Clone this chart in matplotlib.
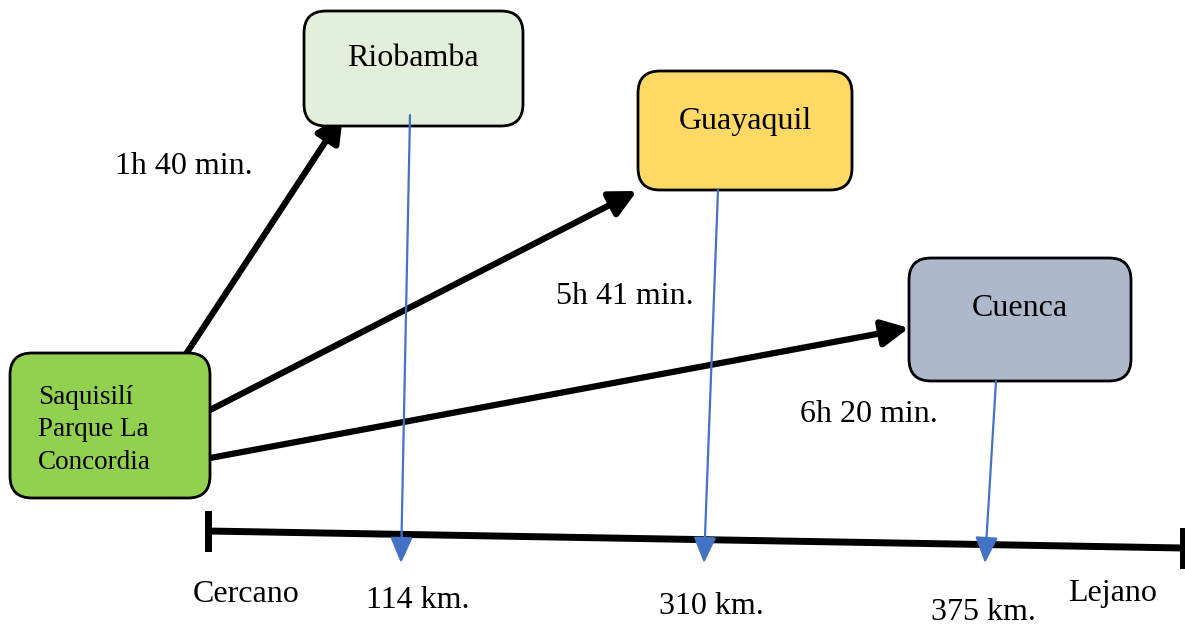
import matplotlib
matplotlib.use("Agg")
import matplotlib.pyplot as plt
from matplotlib.patches import FancyBboxPatch, FancyArrowPatch

# Data
origin = "Saquisilí\nParque La\nConcordia"
destinations = ["Riobamba", "Guayaquil", "Cuenca"]
times = ["1h 40 min.", "5h 41 min.", "6h 20 min."]
distances = ["114 km.", "310 km.", "375 km."]
scale_ends = ["Cercano", "Lejano"]
colors = ["#E2EFDA", "#FFD966", "#ADB9CA"]

W, H = 1185, 630
fig = plt.figure(figsize=(W / 100, H / 100), dpi=100)
ax = fig.add_axes([0, 0, 1, 1])
ax.set_xlim(0, W)
ax.set_ylim(H, 0)
ax.axis("off")

FONT = "Liberation Serif"
FS = 23

def box(x0, y0, x1, y1, color):
    r = 22
    p = FancyBboxPatch((x0 + r, y0 + r), (x1 - x0) - 2 * r, (y1 - y0) - 2 * r,
                       boxstyle=f"round,pad={r}", fc=color, ec="black", lw=2, zorder=2)
    ax.add_patch(p)

# origin box
box(10, 353, 210, 498, "#92D050")
ax.text(38, 430, origin, fontsize=19.5, family=FONT, va="center", ha="left",
        linespacing=1.4, zorder=3)

# destination boxes
dest_boxes = [(304, 11, 523, 126), (638, 71, 852, 190), (909, 258, 1131, 381)]
dest_text_pos = [(413, 58), (745, 122), (1020, 308)]
for (b, c, name, tp) in zip(dest_boxes, colors, destinations, dest_text_pos):
    box(*b, c)
    ax.text(tp[0], tp[1], name, fontsize=FS, family=FONT, ha="center", va="center", zorder=3)

# black arrows
black_arrows = [((186, 354), (343, 115)), ((210, 410), (637, 191)), ((210, 458), (909, 328))]
for s, e in black_arrows:
    a = FancyArrowPatch(s, e, arrowstyle="-|>,head_length=16,head_width=8",
                        mutation_scale=1, lw=4.5, color="black", zorder=1,
                        shrinkA=0, shrinkB=0)
    ax.add_patch(a)

# scale line
ax.plot([208, 1183], [531, 548], color="black", lw=5, zorder=1, solid_capstyle="butt")
ax.plot([208, 208], [514, 548], color="black", lw=5, zorder=1)
ax.plot([1183, 1183], [531, 565], color="black", lw=5, zorder=1)

# blue arrows
blue_arrows = [((410, 115), (401, 563)), ((718, 190), (704, 563)), ((996, 381), (985, 563))]
for s, e in blue_arrows:
    a = FancyArrowPatch(s, e, arrowstyle="-|>,head_length=16,head_width=7",
                        mutation_scale=1, lw=1.6, color="#4472C4", zorder=4,
                        shrinkA=0, shrinkB=0)
    ax.add_patch(a)

# time labels
time_pos = [(115, 166), (556, 296), (800, 415)]
for t, p in zip(times, time_pos):
    ax.text(p[0], p[1], t, fontsize=FS, family=FONT, ha="left", va="center")

# distance labels
dist_pos = [(366, 600), (659, 606), (931, 613)]
for d, p in zip(distances, dist_pos):
    ax.text(p[0], p[1], d, fontsize=FS, family=FONT, ha="left", va="center")

ax.text(193, 594, scale_ends[0], fontsize=FS, family=FONT, ha="left", va="center")
ax.text(1068, 594, scale_ends[1], fontsize=FS, family=FONT, ha="left", va="center")

fig.savefig("out.png", dpi=100)
